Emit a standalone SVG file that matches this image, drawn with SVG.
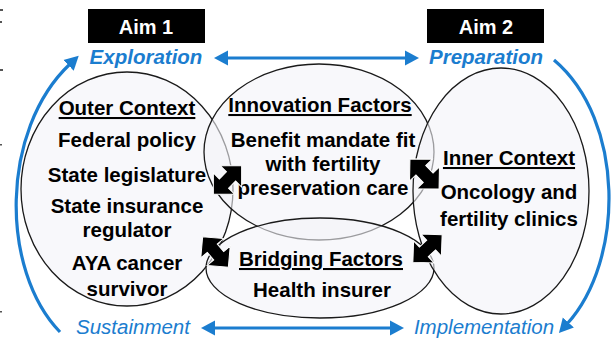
<svg xmlns="http://www.w3.org/2000/svg" width="616" height="338" viewBox="0 0 616 338">
  <style>
    .lbl { font-family: "Liberation Sans", Arial, Helvetica, sans-serif; font-weight: bold; font-size: 20.5px; fill: #000; text-anchor: middle; }
    .hd { text-decoration: underline; }
    .aim { font-family: "Liberation Sans", Arial, sans-serif; font-weight: bold; font-size: 20px; fill: #fff; text-anchor: middle; }
    .phase { font-family: "Liberation Sans", Arial, sans-serif; font-style: italic; font-size: 20.5px; fill: #1b7dcf; text-anchor: middle; }
    .phase-b { font-weight: bold; }
    .ell { fill: #f4f4f8; fill-opacity: 0.6; stroke: #1a1a1a; stroke-width: 1.3; }
    .flow { fill: none; stroke: #1b7dcf; stroke-width: 3.2; }
    .dbl { fill: #000; stroke: #fff; stroke-width: 1; }
  </style>
  <defs>
    <marker id="blueHead" viewBox="0 -8 15 16" refX="2" refY="0" markerWidth="15" markerHeight="16" markerUnits="userSpaceOnUse" orient="auto-start-reverse">
      <path d="M0,-7.5 L14,0 L0,7.5 Z" fill="#1b7dcf"/>
    </marker>
    <!-- thick double-headed block arrow, centred on the origin along x -->
    <path id="blockArrow" d="M20,0 L5,-15 L5,-6.5 L-5,-6.5 L-5,-15 L-20,0 L-5,15 L-5,6.5 L5,6.5 L5,15 Z"/>
  </defs>

  <rect width="616" height="338" fill="#fff"/>

  <!-- scan marks along the left edge -->
  <g fill="#555">
    <rect x="0" y="9" width="3" height="2"/>
    <rect x="0" y="21" width="2" height="2"/>
    <rect x="0" y="69" width="3" height="2"/>
    <rect x="0" y="144" width="2" height="1.5"/>
    <rect x="0" y="311" width="2" height="1.5"/>
  </g>

  <!-- context / factor ellipses -->
  <g id="outer-context">
    <ellipse class="ell" cx="127" cy="189" rx="106" ry="117"/>
  </g>
  <g id="innovation-factors">
    <ellipse class="ell" cx="319" cy="152" rx="115" ry="88"/>
  </g>
  <g id="bridging-factors">
    <ellipse class="ell" cx="320" cy="268" rx="114" ry="50"/>
  </g>
  <g id="inner-context">
    <ellipse class="ell" cx="501" cy="191" rx="88" ry="123"/>
  </g>

  <!-- ellipse texts -->
  <g id="outer-context-text">
    <text class="lbl hd" x="127" y="115">Outer Context</text>
    <text class="lbl" x="127" y="147">Federal policy</text>
    <text class="lbl" x="127" y="182">State legislature</text>
    <text class="lbl" x="127" y="213">State insurance</text>
    <text class="lbl" x="127" y="237">regulator</text>
    <text class="lbl" x="127" y="270">AYA cancer</text>
    <text class="lbl" x="127" y="296">survivor</text>
  </g>
  <g id="innovation-factors-text">
    <text class="lbl hd" x="320" y="112">Innovation Factors</text>
    <text class="lbl" x="323" y="147">Benefit mandate fit</text>
    <text class="lbl" x="323" y="171">with fertility</text>
    <text class="lbl" x="323" y="195">preservation care</text>
  </g>
  <g id="inner-context-text">
    <text class="lbl hd" x="509" y="165">Inner Context</text>
    <text class="lbl" x="509" y="199">Oncology and</text>
    <text class="lbl" x="509" y="226">fertility clinics</text>
  </g>
  <g id="bridging-factors-text">
    <text class="lbl hd" x="321" y="266">Bridging Factors</text>
    <text class="lbl" x="322" y="297">Health insurer</text>
  </g>

  <!-- aims -->
  <g id="aim1">
    <rect x="88" y="9" width="117" height="34" fill="#000"/>
    <text class="aim" x="146" y="34">Aim 1</text>
  </g>
  <g id="aim2">
    <rect x="427" y="9" width="117" height="34" fill="#000"/>
    <text class="aim" x="486" y="34">Aim 2</text>
  </g>

  <!-- phases -->
  <g id="exploration"><text class="phase phase-b" x="146" y="64">Exploration</text></g>
  <g id="preparation"><text class="phase phase-b" x="486" y="64">Preparation</text></g>
  <g id="sustainment"><text class="phase" x="133" y="334">Sustainment</text></g>
  <g id="implementation"><text class="phase" x="484" y="334">Implementation</text></g>

  <!-- connectors -->
  <g id="connectors">
    <path class="flow" d="M226,58 L407,58" marker-start="url(#blueHead)" marker-end="url(#blueHead)"/>
    <path class="flow" d="M213,328 L392,328" marker-start="url(#blueHead)" marker-end="url(#blueHead)"/>
    <path class="flow" d="M60,332 C0,270 0,130 70,64" marker-end="url(#blueHead)"/>
    <path class="flow" d="M554,60 C625,120 625,260 567,324" marker-end="url(#blueHead)"/>

    <use href="#blockArrow" class="dbl" transform="translate(227.5,180) rotate(-45)"/>
    <use href="#blockArrow" class="dbl" transform="translate(215.5,252) rotate(50)"/>
    <use href="#blockArrow" class="dbl" transform="translate(424.5,174) rotate(46) scale(1.05)"/>
    <use href="#blockArrow" class="dbl" transform="translate(427.5,248.5) rotate(-43)"/>
  </g>
</svg>
